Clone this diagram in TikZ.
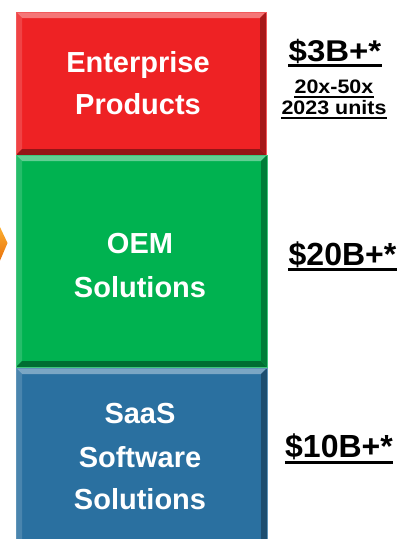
\documentclass[tikz,border=0pt]{standalone}
\usepackage{graphicx}
\usepackage{fontspec}
\setmainfont{Liberation Sans}
\usetikzlibrary{calc}
\definecolor{boxred}{RGB}{238,34,36}
\definecolor{boxgreen}{RGB}{0,178,80}
\definecolor{boxblue}{RGB}{42,112,160}
\definecolor{gemA}{RGB}{252,178,50}
\definecolor{gemB}{RGB}{232,110,10}
\tikzset{
  bx/.style={inner sep=0pt, outer sep=0pt, anchor=north west},
  boxtext/.style={text=white, font=\fontsize{29}{42}\selectfont\bfseries, inner sep=0pt, anchor=base},
  price/.style={font=\fontsize{32}{36}\selectfont\bfseries, inner sep=0pt, anchor=base},
  smallprice/.style={font=\fontsize{19.5}{22}\selectfont\bfseries, inner sep=0pt, anchor=base},
  uline/.style={line width=3pt},
  thinuline/.style={line width=2pt},
}
\newcommand\bevelface[2]{%
  \fill[#2!62!white] (#1.north west) -- (#1.north east) -- ([shift={(-6pt,-6pt)}]#1.north east) -- ([shift={(6pt,-6pt)}]#1.north west) -- cycle;
  \fill[#2!85!white] (#1.north west) -- ([shift={(6pt,-6pt)}]#1.north west) -- ([shift={(6pt,6pt)}]#1.south west) -- (#1.south west) -- cycle;
  \fill[#2!62!black] (#1.south west) -- ([shift={(6pt,6pt)}]#1.south west) -- ([shift={(-6pt,6pt)}]#1.south east) -- (#1.south east) -- cycle;
  \fill[#2!70!black] (#1.south east) -- ([shift={(-6pt,6pt)}]#1.south east) -- ([shift={(-6pt,-6pt)}]#1.north east) -- (#1.north east) -- cycle;
  \draw[#2!75!white, line width=0.8pt] (#1.north west) rectangle (#1.south east);
}
\begin{document}
\begin{tikzpicture}[x=1pt, y=-1pt]
\useasboundingbox (0,0) rectangle (407,539);
\clip (0,0) rectangle (407,539);
% boxes
\node[bx, fill=boxred, minimum width=250pt, minimum height=143pt] (red) at (16,12) {};
\bevelface{red}{boxred}
\node[bx, fill=boxgreen, minimum width=251pt, minimum height=212pt] (green) at (16,155) {};
\bevelface{green}{boxgreen}
\node[bx, fill=boxblue, minimum width=251pt, minimum height=200pt] (blue) at (16,368) {};
\bevelface{blue}{boxblue}
% box labels
\node[boxtext] (ent1) at (138,72) {Enterprise};
\node[boxtext] (ent2) at (138,114) {Products};
\node[boxtext] (oem1) at (140,253) {OEM};
\node[boxtext] (oem2) at (140,297) {Solutions};
\node[boxtext] (saas1) at (140,423) {SaaS};
\node[boxtext] (saas2) at (140,467) {Software};
\node[boxtext] (saas3) at (140,509) {Solutions};
% gem at left edge
\shade[top color=gemA, bottom color=gemB] (-1,225) -- (7.5,243) -- (-1,263) -- cycle;
% price labels
\node[price] (p3) at (335,61) {\scalebox{1.1}[1]{\fontsize{30}{32}\selectfont\$3B+*}};
\draw[uline] ([yshift=-4.5pt]p3.base west) -- ([yshift=-4.5pt]p3.base east);
\node[smallprice] (p3a) at (334,93) {\scalebox{1.1}[1]{20x-50x}};
\draw[thinuline] ([yshift=-3.5pt]p3a.base west) -- ([yshift=-3.5pt]p3a.base east);
\node[smallprice] (p3b) at (334,114) {\scalebox{1.1}[1]{2023 units}};
\draw[thinuline] ([yshift=-3.5pt]p3b.base west) -- ([yshift=-3.5pt]p3b.base east);
\node[price] (p20) at (342.5,265) {\$20B+*};
\draw[uline] ([yshift=-4.5pt]p20.base west) -- ([yshift=-4.5pt]p20.base east);
\node[price] (p10) at (339,457) {\$10B+*};
\draw[uline] ([yshift=-5pt]p10.base west) -- ([yshift=-5pt]p10.base east);
\end{tikzpicture}
\end{document}
